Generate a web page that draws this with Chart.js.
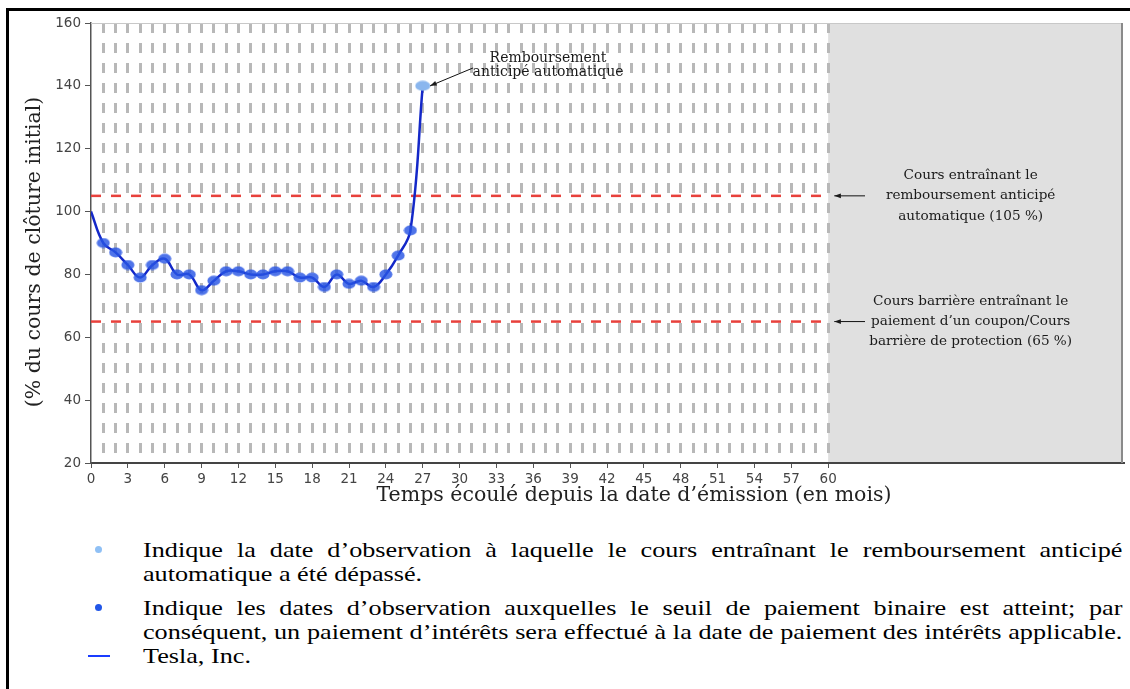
<!DOCTYPE html>
<html lang="fr">
<head>
<meta charset="UTF-8">
<title>Tesla, Inc. - % du cours de clôture initial</title>
<script src="https://cdn.jsdelivr.net/npm/chart.js"></script>
<style>
  body { margin: 0; background: #fff; width: 1130px; height: 689px; overflow: hidden; position: relative; }
  #frame { position: absolute; left: 6px; top: 8px; width: 1300px; height: 900px; border-left: 3px solid #000; border-top: 3px solid #000; }
  #wrap { position: absolute; left: 0; top: 0; width: 1130px; height: 515px; }
  #legend { position: absolute; left: 88px; top: 538px; width: 1034px; font-family: "Liberation Serif", serif; font-size: 22px; color: #000; }
  .item { position: relative; padding-left: 55px; }
  .item + .item { margin-top: 10px; }
  .item.last { margin-top: 0; }
  .ln { line-height: 24px; height: 24px; white-space: nowrap; width: 823px; transform: scaleX(1.19); transform-origin: left top; }
  .ln.j { text-align: justify; text-align-last: justify; }
  .dot { position: absolute; left: 7px; top: 8px; width: 7px; height: 7px; border-radius: 50%; }
  .dash { position: absolute; left: 0; top: 11px; width: 22px; height: 2px; background: #1a3cff; }
</style>
</head>
<body>
<div id="frame"></div>
<div id="wrap"><canvas id="chart"></canvas></div>

<div id="legend">
  <div class="item">
    <span class="dot" style="background:#8fc0f5"></span>
    <div class="ln j">Indique la date d’observation à laquelle le cours entraînant le remboursement anticipé</div>
    <div class="ln">automatique a été dépassé.</div>
  </div>
  <div class="item">
    <span class="dot" style="background:#2156e8"></span>
    <div class="ln j">Indique les dates d’observation auxquelles le seuil de paiement binaire est atteint; par</div>
    <div class="ln j">conséquent, un paiement d’intérêts sera effectué à la date de paiement des intérêts applicable.</div>
  </div>
  <div class="item last">
    <span class="dash"></span>
    <div class="ln">Tesla, Inc.</div>
  </div>
</div>

<script>
// données
const months = [0, 1, 2, 3, 4, 5, 6, 7, 8, 9, 10, 11, 12, 13, 14, 15, 16, 17, 18, 19, 20, 21, 22, 23, 24, 25, 26, 27];
const closePct = [100, 90, 87, 83, 79, 83, 85, 80, 80, 75, 78, 81, 81, 80, 80, 81, 81, 79, 79, 76, 80, 77, 78, 76, 80, 86, 94, 140];
const couponMonths = months.slice(1, 27);      // seuil de paiement binaire atteint
const autocallMonth = 27;                      // remboursement anticipé
const autocallLevel = 105;
const barrierLevel = 65;
const termMonths = 60;
const axisMaxMonths = 84;
const yTicks = [20, 40, 60, 80, 100, 120, 140, 160];

const serif = '"DejaVu Serif", serif';

function ellipse(w, h, color) {
  const c = document.createElement('canvas');
  c.width = w; c.height = h;
  const g = c.getContext('2d');
  g.fillStyle = color;
  g.beginPath();
  g.ellipse(w / 2, h / 2, w / 2 - 0.5, h / 2 - 0.5, 0, 0, Math.PI * 2);
  g.fill();
  return c;
}
const blueMark = ellipse(14, 11, 'rgba(40,85,228,0.82)');
const lightMark = ellipse(16, 11, '#8ab6ee');

function arrow(ctx, x1, y1, x2, y2) {
  const a = Math.atan2(y2 - y1, x2 - x1);
  ctx.beginPath();
  ctx.moveTo(x1, y1);
  ctx.lineTo(x2, y2);
  ctx.stroke();
  ctx.beginPath();
  ctx.moveTo(x2, y2);
  ctx.lineTo(x2 - 7 * Math.cos(a - 0.35), y2 - 7 * Math.sin(a - 0.35));
  ctx.lineTo(x2 - 7 * Math.cos(a + 0.35), y2 - 7 * Math.sin(a + 0.35));
  ctx.closePath();
  ctx.fill();
}

const decor = {
  id: 'decor',
  beforeDraw(chart) {
    const { ctx, chartArea: a, scales: { x } } = chart;
    ctx.save();
    ctx.fillStyle = '#e0e0e0';
    const x60 = x.getPixelForValue(termMonths);
    ctx.fillRect(x60, a.top, a.right - x60, a.bottom - a.top);
    ctx.restore();
  },
  afterDraw(chart) {
    const { ctx, chartArea: a, scales: { x, y } } = chart;
    ctx.save();
    // cadre du graphique
    ctx.lineWidth = 1;
    ctx.strokeStyle = '#c8c8c8';
    ctx.beginPath(); ctx.moveTo(a.left, a.top + 0.5); ctx.lineTo(a.right, a.top + 0.5); ctx.stroke();
    ctx.lineWidth = 2;
    ctx.strokeStyle = '#8a8a8a';
    ctx.beginPath(); ctx.moveTo(a.right - 1, a.top); ctx.lineTo(a.right - 1, a.bottom); ctx.stroke();

    // titres des axes
    ctx.fillStyle = '#222';
    ctx.font = '20.5px ' + serif;
    ctx.textAlign = 'center';
    ctx.textBaseline = 'middle';
    ctx.fillText('Temps écoulé depuis la date d’émission (en mois)', 634, 496);
    ctx.save();
    ctx.translate(35, 252);
    ctx.rotate(-Math.PI / 2);
    ctx.fillText('(% du cours de clôture initial)', 0, 0);
    ctx.restore();

    // annotations
    ctx.fillStyle = '#1a1a1a';
    ctx.strokeStyle = '#111';
    ctx.lineWidth = 1;
    ctx.font = '14px ' + serif;
    ctx.fillText('Remboursement', x.getPixelForValue(37.2), y.getPixelForValue(148.9));
    ctx.fillText('anticipé automatique', x.getPixelForValue(37.2), y.getPixelForValue(144.4));
    arrow(ctx, x.getPixelForValue(31.1), y.getPixelForValue(145.7),
      x.getPixelForValue(27.6), y.getPixelForValue(140));

    ctx.font = '13.6px ' + serif;
    const right = [
      [['Cours entraînant le', 'remboursement anticipé', 'automatique (105 %)'], autocallLevel],
      [['Cours barrière entraînant le', 'paiement d’un coupon/Cours', 'barrière de protection (65 %)'], barrierLevel]
    ];
    right.forEach(([lines, lvl]) => {
      const yc = y.getPixelForValue(lvl);
      lines.forEach((t, i) => ctx.fillText(t, x.getPixelForValue(71.6), yc + (i - 1) * 20.3));
      arrow(ctx, x.getPixelForValue(63.0), yc, x.getPixelForValue(60.5), yc);
    });
    ctx.restore();
  }
};

new Chart(document.getElementById('chart'), {
  type: 'scatter',
  data: {
    datasets: [
      {
        label: 'Remboursement anticipé automatique',
        data: [{ x: autocallMonth, y: closePct[months.indexOf(autocallMonth)] }],
        pointStyle: lightMark,
        showLine: false
      },
      {
        label: 'Seuil de paiement binaire atteint',
        data: couponMonths.map(m => ({ x: m, y: closePct[months.indexOf(m)] })),
        pointStyle: blueMark,
        showLine: false
      },
      {
        label: 'Tesla, Inc.',
        data: months.map((m, i) => ({ x: m, y: closePct[i] })),
        showLine: true,
        borderColor: '#1428c8',
        borderWidth: 2.5,
        pointRadius: 0,
        tension: 0.4
      },
      {
        label: 'Cours de remboursement anticipé (105 %)',
        data: [{ x: 0, y: autocallLevel }, { x: termMonths, y: autocallLevel }],
        showLine: true,
        borderColor: '#e8413c',
        borderWidth: 2.5,
        borderDash: [10, 10],
        pointRadius: 0
      },
      {
        label: 'Cours barrière (65 %)',
        data: [{ x: 0, y: barrierLevel }, { x: termMonths, y: barrierLevel }],
        showLine: true,
        borderColor: '#e8413c',
        borderWidth: 2.5,
        borderDash: [10, 10],
        pointRadius: 0
      }
    ]
  },
  options: {
    responsive: true,
    maintainAspectRatio: false,
    animation: false,
    layout: { padding: { top: 23, right: 7, left: 0, bottom: 0 } },
    plugins: { legend: { display: false }, tooltip: { enabled: false } },
    scales: {
      x: {
        type: 'linear',
        min: 0,
        max: axisMaxMonths,
        afterFit: (s) => { s.height = 52; },
        ticks: {
          stepSize: 1,
          maxTicksLimit: 200,
          autoSkip: false,
          maxRotation: 0,
          padding: 3,
          color: '#444',
          font: { family: '"DejaVu Sans", sans-serif', size: 13.5 },
          callback: (v) => (v % 3 === 0 && v <= termMonths) ? String(v) : ''
        },
        grid: {
          lineWidth: 3,
          color: (c) => (c.tick && c.tick.value >= 1 && c.tick.value <= termMonths) ? '#b8b8b8' : 'rgba(0,0,0,0)',
          tickColor: (c) => (c.tick && c.tick.value % 3 === 0 && c.tick.value <= termMonths) ? '#555' : 'rgba(0,0,0,0)',
          tickWidth: 1,
          tickLength: 5,
          tickBorderDash: []
        },
        border: { color: '#444', width: 2, dash: [10, 10] }
      },
      y: {
        min: 20,
        max: 160,
        afterFit: (s) => { s.width = 91; },
        afterBuildTicks: (s) => { s.ticks = yTicks.map(v => ({ value: v })); },
        ticks: {
          padding: 4,
          color: '#444',
          font: { family: '"DejaVu Sans", sans-serif', size: 13.5 }
        },
        grid: { drawOnChartArea: false, tickLength: 6, tickColor: '#555' },
        border: { color: '#555', width: 1.5 }
      }
    }
  },
  plugins: [decor]
});
</script>
</body>
</html>
